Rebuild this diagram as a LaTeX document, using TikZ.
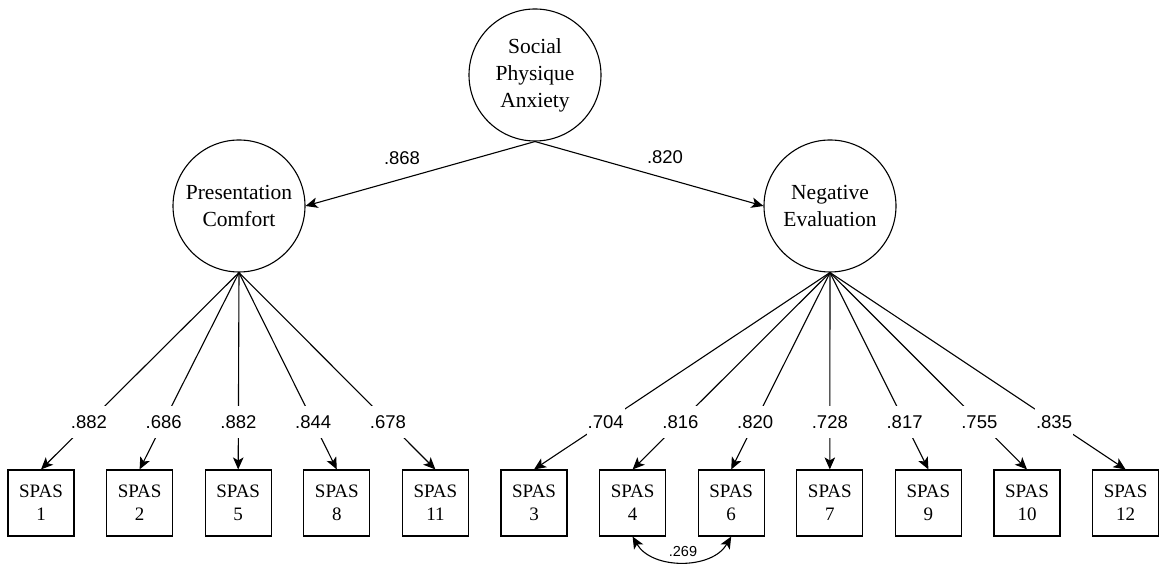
\documentclass[tikz,border=0pt]{standalone}
\usepackage{fontspec}
\setmainfont{Liberation Serif}
\newfontfamily\labfont{Liberation Sans}
\usetikzlibrary{arrows.meta}
\tikzset{
  tip/.tip={Stealth[length=12pt,width=10.5pt,inset=3pt]},
  latent/.style={draw, circle, line width=1.1pt, minimum size=132pt, inner sep=0pt,
    align=center, font=\fontsize{21.5}{27}\selectfont},
  item/.style={draw, rectangle, line width=1.1pt, minimum size=66pt, inner sep=0pt,
    align=center, font=\fontsize{19}{23}\selectfont},
  path/.style={line width=1.1pt, -tip},
  cov/.style={line width=1.1pt, tip-tip},
  load/.style={fill=white, inner sep=1pt, minimum height=32pt, font=\labfont\fontsize{18.5}{20}\selectfont},
  wlab/.style={inner sep=1pt, font=\labfont\fontsize{18.5}{20}\selectfont},
  clab/.style={fill=white, inner sep=0.5pt, font=\labfont\fontsize{14.5}{16}\selectfont}
}
\begin{document}
\begin{tikzpicture}[x=1pt,y=1pt]
\useasboundingbox (0,0) rectangle (1160,564);

% latent factors
\node[latent] (spa) at (535,489) {Social\\Physique\\Anxiety};
\node[latent] (pc)  at (239,358) {Presentation\\Comfort};
\node[latent] (ne)  at (830,358) {Negative\\Evaluation};

% observed items
\foreach \n/\lbl [count=\i from 0] in {s1/1,s2/2,s5/5,s8/8,s11/11,s3/3,s4/4,s6/6,s7/7,s9/9,s10/10,s12/12}
  \node[item] (\n) at ({41+98.6*\i},61) {SPAS\\\lbl};

% second-order paths
\draw[path] (spa.south) -- (pc.east);
\draw[path] (spa.south) -- (ne.west);
\node[wlab] (l868) at (402,406) {.868};
\node[wlab] (l820) at (665,407) {.820};

% first-order loadings
\foreach \n/\v in {s1/.882,s2/.686,s5/.882,s8/.844,s11/.678}
  \draw[path] (pc.south) -- node[load, pos=0.758] {\v} (\n.north);
\foreach \n/\v in {s3/.704,s4/.816,s6/.820,s7/.728,s9/.817,s10/.755,s12/.835}
  \draw[path] (ne.south) -- node[load, pos=0.758] {\v} (\n.north);

% correlated residuals
\draw[cov] (s4.south) to[out=-60,in=-120] (s6.south);
\node[clab] (c269) at (683,12) {.269};
\end{tikzpicture}
\end{document}
